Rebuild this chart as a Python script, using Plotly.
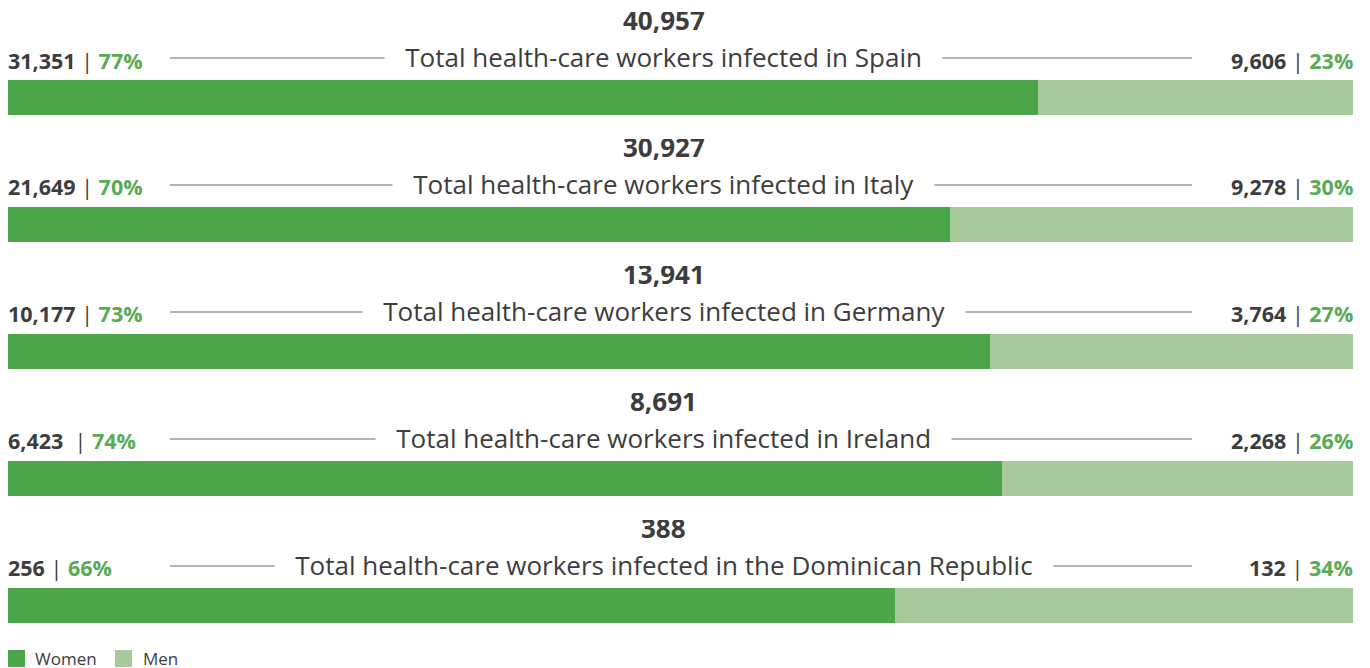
import numpy as np
import plotly.graph_objects as go

countries = ["Spain", "Italy", "Germany", "Ireland", "the Dominican Republic"]
women = [31351, 21649, 10177, 6423, 256]
men = [9606, 9278, 3764, 2268, 132]
totals = [40957, 30927, 13941, 8691, 388]
women_pct = [77, 70, 73, 74, 66]
men_pct = [23, 30, 27, 26, 34]
series_names = ["Women", "Men"]

DARK = "#4ba64a"
LIGHT = "#a8ca9b"
PCT = "#5aab55"
TXT = "#3d3d3d"
FONT = "Open Sans"

w = np.array(women, dtype=float)
m = np.array(men, dtype=float)
tot = w + m
ys = list(range(len(countries)))

fig = go.Figure()
fig.add_trace(go.Bar(y=ys, x=w / tot, orientation="h", name=series_names[0],
                     marker=dict(color=DARK, line=dict(width=0)), width=0.2756,
                     hoverinfo="skip", showlegend=False))
fig.add_trace(go.Bar(y=ys, x=m / tot, orientation="h", name=series_names[1],
                     marker=dict(color=LIGHT, line=dict(width=0)), width=0.2756,
                     hoverinfo="skip", showlegend=False))

CX = 0.4877
anns = []
shapes = []
NB = "\u00a0" * 3
for i, c in enumerate(countries):
    anns.append(dict(x=CX, xref="paper", y=i, yref="y", yshift=72.8,
                     text=f"<b>{totals[i]:,}</b>", showarrow=False,
                     font=dict(family=FONT, size=26, color=TXT), height=26,
                     xanchor="center", yanchor="middle", valign="bottom"))
    shapes.append(dict(type="line", xref="paper", yref="y", x0=0.1204, x1=0.8803,
                       y0=i - 39.5 / 127, y1=i - 39.5 / 127,
                       line=dict(color="#9a9a9a", width=1.5), layer="above"))
    anns.append(dict(x=CX, xref="paper", y=i, yref="y", yshift=40.5,
                     text=f"{NB}Total health-care workers infected in {c}{NB}",
                     showarrow=False, bgcolor="white", borderpad=0,
                     font=dict(family=FONT, size=26, color=TXT),
                     xanchor="center", yanchor="middle"))
    lsep = "\u00a0\u00a0| " if i == 3 else " | "
    anns.append(dict(x=0, xref="paper", y=i, yref="y", yshift=37.5, xshift=-2,
                     text=f"<b>{women[i]:,}</b>{lsep}<b><span style='color:{PCT}'>{women_pct[i]}%</span></b>",
                     showarrow=False, font=dict(family=FONT, size=21.5, color=TXT),
                     xanchor="left", yanchor="middle"))
    anns.append(dict(x=1, xref="paper", y=i, yref="y", yshift=37.5, xshift=2,
                     text=f"<b>{men[i]:,}</b> | <b><span style='color:{PCT}'>{men_pct[i]}%</span></b>",
                     showarrow=False, font=dict(family=FONT, size=21.5, color=TXT),
                     xanchor="right", yanchor="middle"))

# legend (drawn manually to match the reference's large swatches)
leg_x = [(0.0, 0.01264, 0.01859), (0.07955, 0.0922, 0.0989)]
for (x0, x1, tx), name, col in zip(leg_x, series_names, [DARK, LIGHT]):
    shapes.append(dict(type="rect", xref="paper", yref="paper", x0=x0, x1=x1,
                       y0=-0.0595, y1=-0.0322, fillcolor=col, line=dict(width=0)))
    anns.append(dict(x=tx, xref="paper", y=-0.0466, yref="paper", text=name,
                     showarrow=False, xanchor="left", yanchor="middle",
                     font=dict(family=FONT, size=17, color=TXT)))

fig.update_layout(
    width=1370, height=668,
    margin=dict(l=0, r=25, t=0, b=46),
    barmode="stack",
    paper_bgcolor="white", plot_bgcolor="white",
    xaxis=dict(range=[0, 1], visible=False, fixedrange=True),
    yaxis=dict(range=[4.193, -0.7047], visible=False, fixedrange=True),
    showlegend=False,
    annotations=anns, shapes=shapes,
)

fig.write_html("out.html")
